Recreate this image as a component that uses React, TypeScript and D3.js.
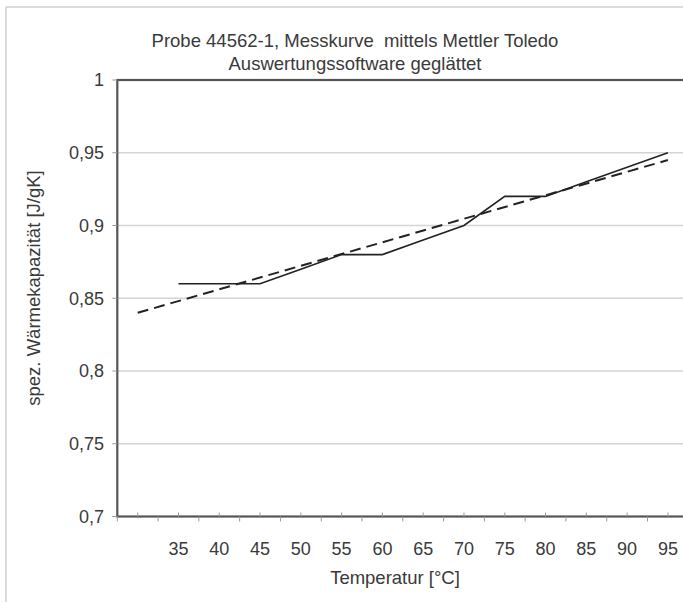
import React from "react";
import * as d3 from "d3";

const titleLines = ["Probe 44562-1, Messkurve  mittels Mettler Toledo", "Auswertungssoftware geglättet"];
const yAxisTitle = "spez. Wärmekapazität [J/gK]";
const xAxisTitle = "Temperatur [°C]";

const measTemps = [35, 40, 45, 50, 55, 60, 65, 70, 75, 80, 85, 90, 95];
const measValues = [0.86, 0.86, 0.86, 0.87, 0.88, 0.88, 0.89, 0.9, 0.92, 0.92, 0.93, 0.94, 0.95];

const trendTemps = [30, 95];
const trendValues = [0.84, 0.945];

const xLabels = [35, 40, 45, 50, 55, 60, 65, 70, 75, 80, 85, 90, 95];
const xMajorTicks = [30, 35, 40, 45, 50, 55, 60, 65, 70, 75, 80, 85, 90, 95];
const xBoundaryTicks = [27.5, 32.5, 37.5, 42.5, 47.5, 52.5, 57.5, 62.5, 67.5, 72.5, 77.5, 82.5, 87.5, 92.5, 97.5];
const yTicks = [0.7, 0.75, 0.8, 0.85, 0.9, 0.95, 1];

const W = 683;
const H = 602;
const L = 117.3;
const T = 80;
const B = 516.5;

export default function App() {
  const x = d3.scaleLinear().domain([27.5, 97.5]).range([L, L + 70 * 8.157]);
  const y = d3.scaleLinear().domain([0.7, 1]).range([B, T]);
  const R = x(97.5);
  const fmt = (v: number) => String(+v.toFixed(2)).replace(".", ",");
  const line = d3
    .line<[number, number]>()
    .x((d) => x(d[0]))
    .y((d) => y(d[1]));
  const meas = measTemps.map((t, i) => [t, measValues[i]] as [number, number]);
  const trend = trendTemps.map((t, i) => [t, trendValues[i]] as [number, number]);
  const font = "'Liberation Sans', Arial, sans-serif";
  const txt = "#3a3a3a";
  return (
    <svg
      width={W}
      height={H}
      style={{ position: "absolute", left: 0, top: 0, background: "#fff" }}
      fontFamily={font}
    >
      <rect x={0} y={0} width={W} height={H} fill="#fff" />
      {/* outer frame */}
      <line x1={6} y1={7} x2={W + 5} y2={7} stroke="#cfcfcf" strokeWidth={1.5} />
      <line x1={6} y1={7} x2={6} y2={H + 5} stroke="#cfcfcf" strokeWidth={1.5} />
      {/* title */}
      {titleLines.map((t, i) => (
        <text
          key={i}
          x={355}
          y={47 + i * 23}
          textAnchor="middle"
          fontSize={18.5}
          fill={txt}
          style={{ whiteSpace: "pre" }}
        >
          {t}
        </text>
      ))}
      {/* gridlines */}
      {yTicks.slice(1, -1).map((v) => (
        <line key={v} x1={L} x2={R} y1={y(v)} y2={y(v)} stroke="#d4d4d4" strokeWidth={1.5} />
      ))}
      {/* plot border */}
      <rect x={L} y={T} width={R - L} height={B - T} fill="none" stroke="#555" strokeWidth={2.2} />
      {/* y ticks and labels */}
      {yTicks.map((v) => (
        <g key={v}>
          <line x1={L - 5} x2={L} y1={y(v)} y2={y(v)} stroke="#999" strokeWidth={1} />
          <text x={104} y={y(v)} dy="0.36em" textAnchor="end" fontSize={18} fill={txt}>
            {fmt(v)}
          </text>
        </g>
      ))}
      {/* x ticks */}
      {xMajorTicks.map((v) => (
        <line key={"u" + v} x1={x(v)} x2={x(v)} y1={B - 4} y2={B} stroke="#999" strokeWidth={1} />
      ))}
      {xBoundaryTicks.map((v) => (
        <line key={"d" + v} x1={x(v)} x2={x(v)} y1={B} y2={B + 5} stroke="#999" strokeWidth={1} />
      ))}
      {xLabels.map((v) => (
        <text key={"l" + v} x={x(v)} y={555} textAnchor="middle" fontSize={18} fill={txt}>
          {v}
        </text>
      ))}
      {/* axis titles */}
      <text x={395} y={584} textAnchor="middle" fontSize={18.5} fill={txt}>
        {xAxisTitle}
      </text>
      <text
        transform={`translate(40,${288}) rotate(-90)`}
        textAnchor="middle"
        fontSize={18.5}
        fill={txt}
      >
        {yAxisTitle}
      </text>
      {/* series */}
      <path d={line(trend) || ""} fill="none" stroke="#222" strokeWidth={2} strokeDasharray="11,6" />
      <path d={line(meas) || ""} fill="none" stroke="#222" strokeWidth={1.6} />
    </svg>
  );
}
